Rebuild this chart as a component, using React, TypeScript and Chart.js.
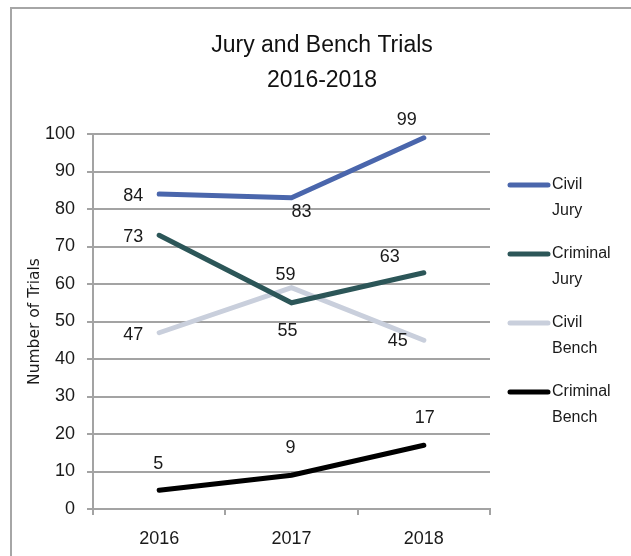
import React, { useEffect, useRef } from "react";
import { Chart, registerables } from "chart.js";

Chart.register(...registerables);

const years = ["2016", "2017", "2018"];
const seriesNames = ["Civil Jury", "Criminal Jury", "Civil Bench", "Criminal Bench"];
const legendLines = [["Civil", "Jury"], ["Criminal", "Jury"], ["Civil", "Bench"], ["Criminal", "Bench"]];
const civilJury = [84, 83, 99];
const criminalJury = [73, 55, 63];
const civilBench = [47, 59, 45];
const criminalBench = [5, 9, 17];
const colors = ["#4a66ac", "#2c5658", "#c9cfdc", "#000000"];
const yTicks = [0, 10, 20, 30, 40, 50, 60, 70, 80, 90, 100];
const titleLines = ["Jury and Bench Trials", "2016-2018"];
const yTitle = "Number of Trials";

// label offsets (dx, dy) from each point
const labelOffsets = [
  [[-26, 2], [10, 14], [-17, -18]],
  [[-26, 2], [-4, 28], [-34, -16]],
  [[-26, 2], [-6, -13], [-26, 1]],
  [[-1, -26], [-1, -27], [1, -27]],
];

const FONT = "'Liberation Sans', Arial, sans-serif";
const TEXT = "#1a1a1a";
const GRID = "#a3a3a3";

const titlePlugin = {
  id: "customTitle",
  afterDraw(chart: any) {
    const ctx = chart.ctx;
    ctx.save();
    ctx.font = `23px ${FONT}`;
    ctx.fillStyle = "#111";
    ctx.textAlign = "center";
    ctx.textBaseline = "middle";
    titleLines.forEach((t, i) => ctx.fillText(t, 322, 46 + i * 35));
    ctx.restore();
  },
};

const labelsPlugin = {
  id: "valueLabels",
  afterDatasetsDraw(chart: any) {
    const ctx = chart.ctx;
    ctx.save();
    ctx.font = `18px ${FONT}`;
    ctx.fillStyle = TEXT;
    ctx.textAlign = "center";
    ctx.textBaseline = "middle";
    chart.data.datasets.forEach((ds: any, i: number) => {
      const meta = chart.getDatasetMeta(i);
      meta.data.forEach((pt: any, j: number) => {
        const [dx, dy] = labelOffsets[i][j];
        ctx.fillText(String(ds.data[j]), pt.x + dx, pt.y + dy);
      });
    });
    ctx.restore();
  },
};

const legendPlugin = {
  id: "customLegend",
  afterDraw(chart: any) {
    const ctx = chart.ctx;
    const area = chart.chartArea;
    ctx.save();
    const x0 = area.right + 20;
    const x1 = area.right + 58;
    const tx = area.right + 62;
    chart.data.datasets.forEach((ds: any, i: number) => {
      const y = area.top + 51 + i * 69;
      ctx.strokeStyle = ds.borderColor;
      ctx.lineWidth = 5;
      ctx.lineCap = "round";
      ctx.beginPath();
      ctx.moveTo(x0, y);
      ctx.lineTo(x1, y);
      ctx.stroke();
      ctx.font = `16px ${FONT}`;
      ctx.fillStyle = TEXT;
      ctx.textAlign = "left";
      ctx.textBaseline = "middle";
      legendLines[i].forEach((t, k) => ctx.fillText(t, tx, y + k * 26));
    });
    ctx.restore();
  },
};

export default function App() {
  const ref = useRef<HTMLCanvasElement>(null);
  useEffect(() => {
    if (!ref.current) return;
    const series = [civilJury, criminalJury, civilBench, criminalBench];
    const chart = new Chart(ref.current, {
      type: "line",
      data: {
        labels: years,
        datasets: series.map((d, i) => ({
          label: seriesNames[i],
          data: d,
          borderColor: colors[i],
          backgroundColor: colors[i],
          borderWidth: 5,
          borderCapStyle: "round" as const,
          borderJoinStyle: "miter" as const,
          pointRadius: 0,
          tension: 0,
        })),
      },
      options: {
        animation: false,
        responsive: false,
        maintainAspectRatio: false,
        layout: { padding: { left: 0, right: 141, top: 134, bottom: 0 } },
        plugins: {
          legend: { display: false },
          tooltip: { enabled: false },
          title: { display: false },
        },
        scales: {
          x: {
            offset: true,
            afterFit: (scale: any) => {
              scale.height = 47;
            },
            grid: {
              offset: true,
              drawOnChartArea: false,
              drawTicks: true,
              tickLength: 6,
              color: GRID,
              lineWidth: 2,
            },
            border: { display: true, color: GRID, width: 2 },
            ticks: { color: TEXT, font: { family: FONT, size: 18 }, padding: 13 },
          },
          y: {
            min: 0,
            max: 100,
            afterBuildTicks: (scale: any) => {
              scale.ticks = yTicks.map((v) => ({ value: v }));
            },
            afterFit: (scale: any) => {
              scale.width = 93;
            },
            grid: { color: GRID, lineWidth: 2, tickLength: 6, drawTicks: true },
            border: { display: true, color: GRID, width: 2 },
            ticks: { color: TEXT, font: { family: FONT, size: 18 }, padding: 12 },
            title: {
              display: true,
              text: yTitle,
              color: TEXT,
              font: { family: "'DejaVu Sans', sans-serif", size: 15.5 },
              padding: { top: 26, bottom: 0 },
            },
          },
        },
      },
      plugins: [titlePlugin, labelsPlugin, legendPlugin],
    });
    return () => chart.destroy();
  }, []);

  return (
    <div style={{ position: "fixed", left: 0, top: 0, width: 631, height: 556, background: "#fff", overflow: "hidden" }}>
      <div
        style={{
          position: "absolute",
          left: 10,
          top: 7,
          width: 640,
          height: 560,
          borderLeft: "2px solid #a6a6a6",
          borderTop: "2px solid #a6a6a6",
        }}
      />
      <canvas ref={ref} width={631} height={556} style={{ position: "absolute", left: 0, top: 0 }} />
    </div>
  );
}
